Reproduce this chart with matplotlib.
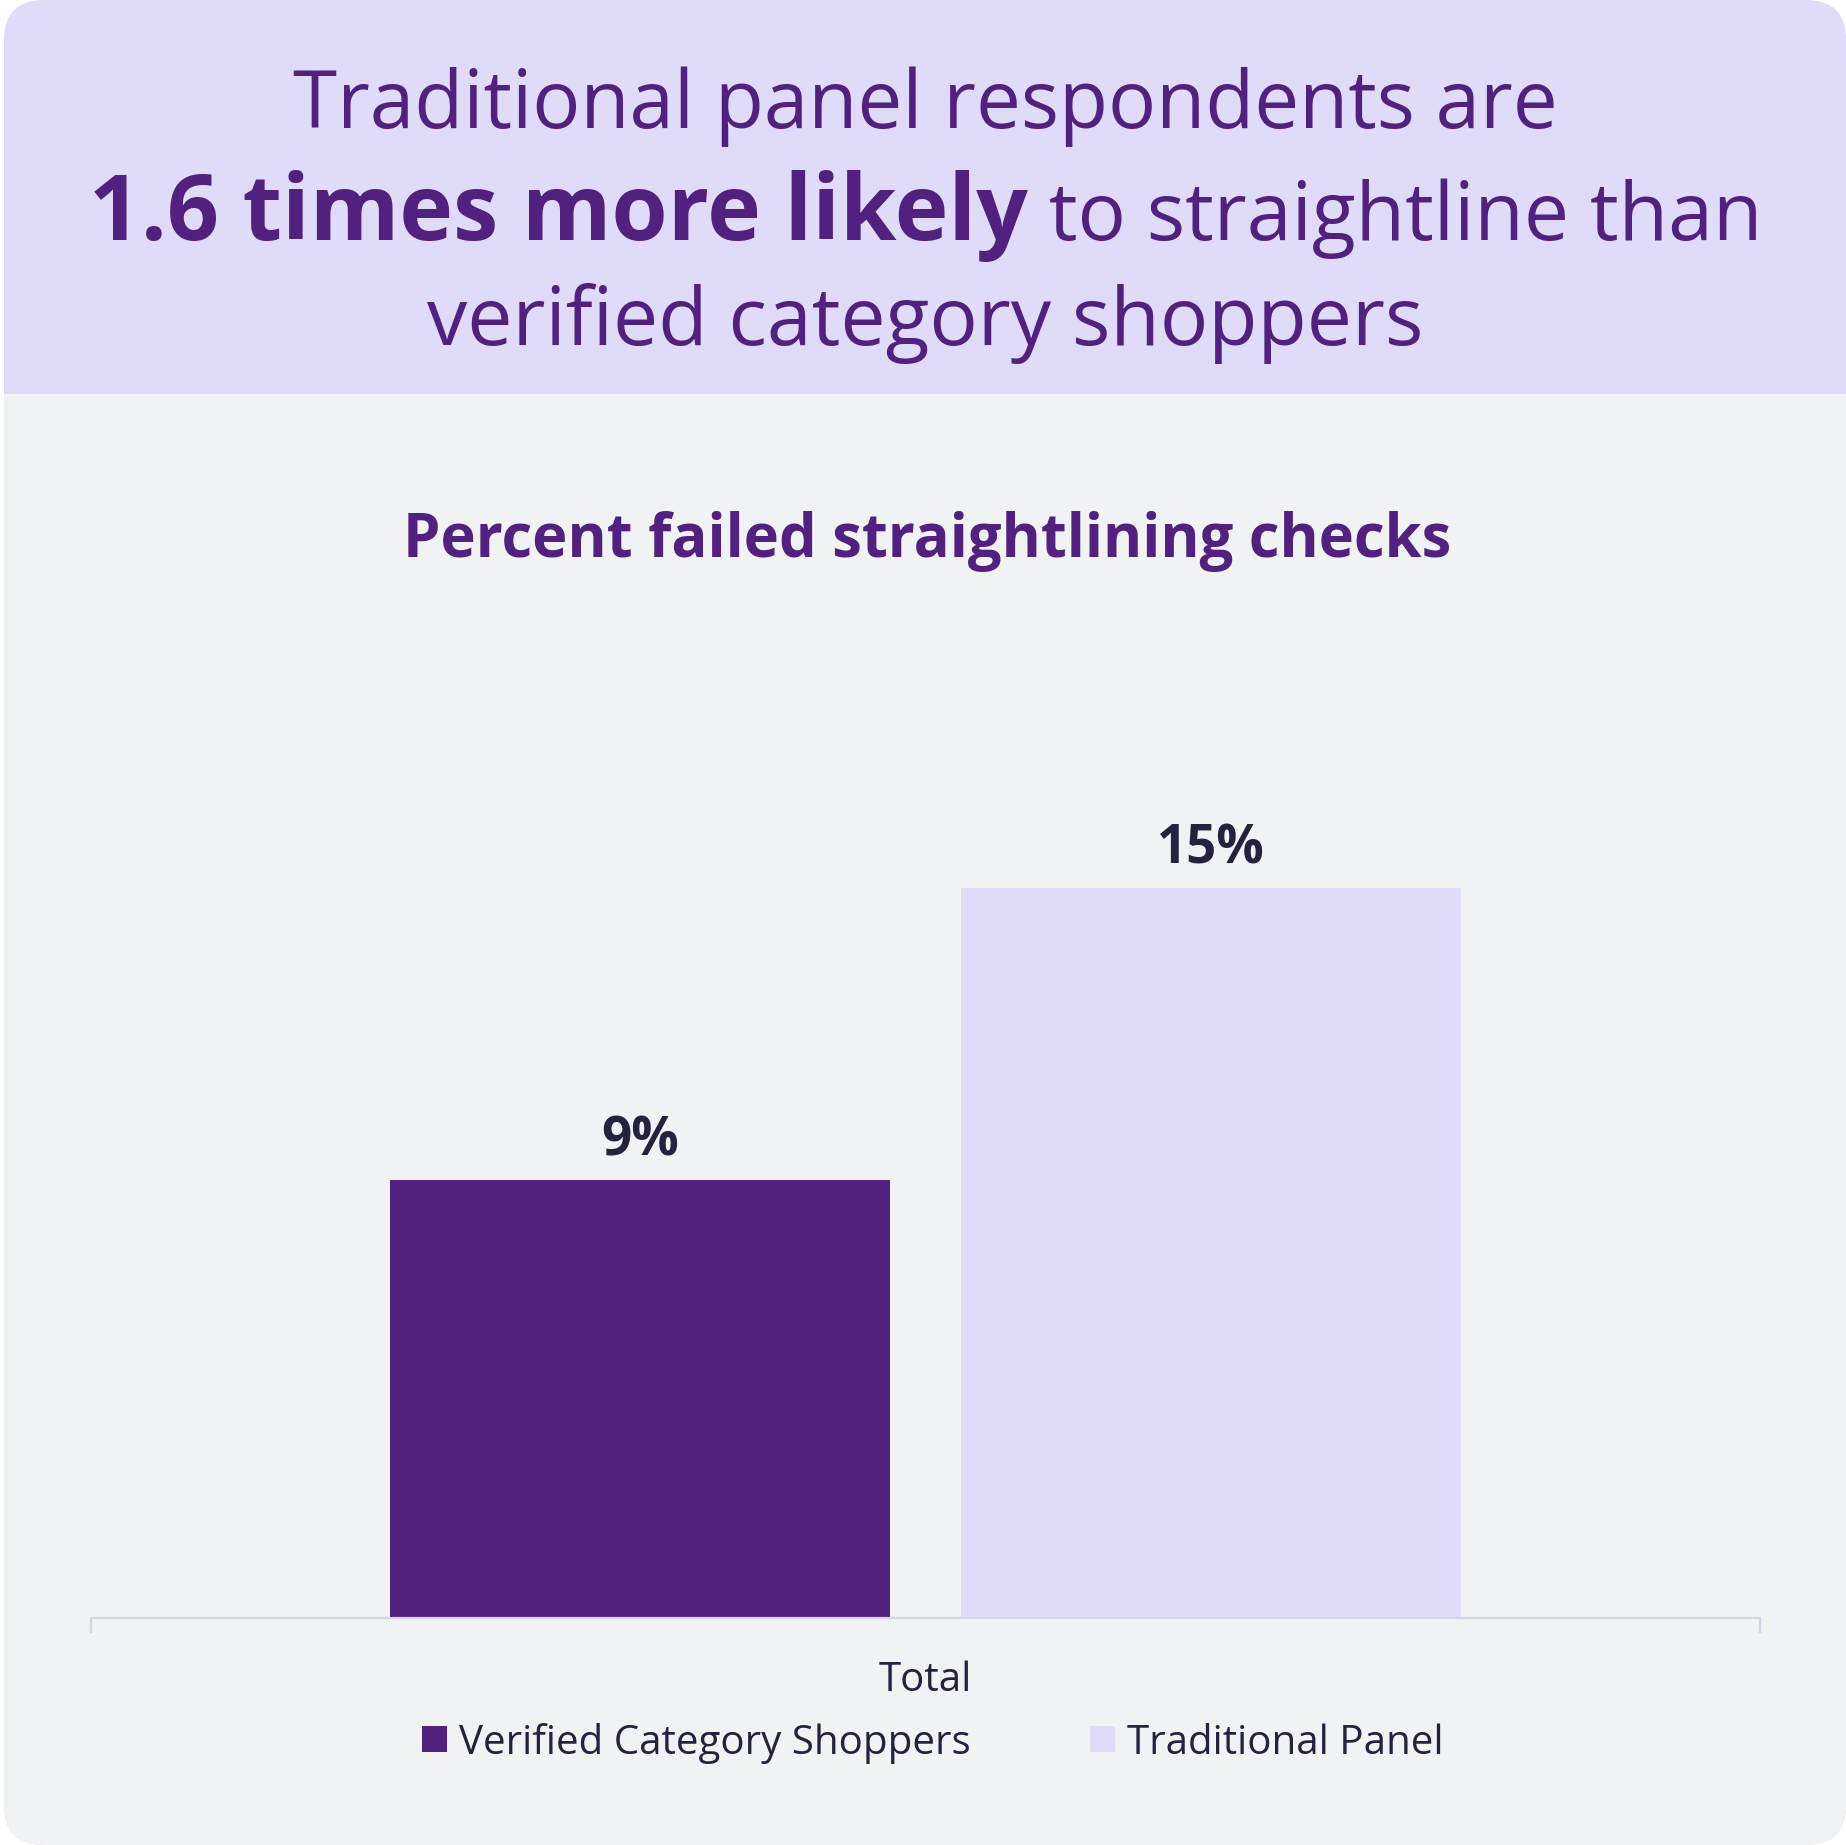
import matplotlib.pyplot as plt
from matplotlib.patches import FancyBboxPatch, Rectangle, Patch

W, H = 1846, 1845
DPI = 100

# data
series = ['Verified Category Shoppers', 'Traditional Panel']
values = [9, 15]
category = 'Total'

purple = '#52207F'
lavender = '#DFDBF9'
body_bg = '#F1F2F4'
dark = '#23223F'
axis_col = '#D6D4EA'

plt.rcParams['font.family'] = ['Open Sans', 'DejaVu Sans']

fig = plt.figure(figsize=(W / DPI, H / DPI), dpi=DPI)
fig.patch.set_facecolor('white')


def fx(px):
    return px / W


def fy(py):
    # py is measured from the top
    return 1 - py / H


# card: header band then grey body
r = 40
header_h = 394
card = FancyBboxPatch((fx(4 + r), fy(H - r)), fx(W - 4 - 2 * r), (H - 2 * r) / H,
                      boxstyle='round,pad=%f' % (r / H), transform=fig.transFigure,
                      facecolor=lavender, edgecolor='none', zorder=-10)
fig.patches.append(card)
body = FancyBboxPatch((fx(4 + r), fy(H - r)), fx(W - 4 - 2 * r), (H - header_h - 2 * r) / H,
                      boxstyle='round,pad=%f' % (r / H), transform=fig.transFigure,
                      facecolor=body_bg, edgecolor='none', zorder=-9)
fig.patches.append(body)
fig.patches.append(Rectangle((fx(4), fy(header_h + r + 2)), fx(W - 4), (r + 2) / H,
                             transform=fig.transFigure, facecolor=body_bg, edgecolor='none',
                             zorder=-9))

# headline
fig.text(fx(925), fy(128), 'Traditional panel respondents are', ha='center', va='baseline',
         fontsize=57.6, color=purple)
fig.text(fx(925), fy(345), 'verified category shoppers', ha='center', va='baseline',
         fontsize=58, color=purple)

renderer = fig.canvas.get_renderer()
t_bold = fig.text(0, fy(240), '1.6 times more likely', ha='left', va='baseline',
                  fontsize=65.5, fontweight='bold', color=purple)
t_reg = fig.text(0, fy(240), ' to straightline than', ha='left', va='baseline',
                 fontsize=58, color=purple)
wb = t_bold.get_window_extent(renderer).width
wr = t_reg.get_window_extent(renderer).width
x0 = 926 - (wb + wr) / 2
t_bold.set_x(fx(x0))
t_reg.set_x(fx(x0 + wb))

fig.text(fx(927), fy(557), 'Percent failed straightlining checks', ha='center', va='baseline',
         fontsize=43, fontweight='bold', color=purple)

# bar chart
ax = fig.add_axes([fx(91), fy(1618), fx(1760 - 91), (1618 - 645) / H])
ax.set_facecolor('none')
width = 0.3
gap = 0.042
offsets = [-(width + gap) / 2, (width + gap) / 2]
colors = [purple, lavender]
for name, v, off, c in zip(series, values, offsets, colors):
    ax.bar(0.5 + off, v, width=width, color=c, label=name)
    ax.annotate('%d%%' % v, (0.5 + off, v), xytext=(0, 18), textcoords='offset points',
                ha='center', va='baseline', fontsize=38, fontweight='bold', color=dark)

ax.set_xlim(0, 1)
ax.set_ylim(0, 20)
for s in ['left', 'right', 'top']:
    ax.spines[s].set_visible(False)
ax.spines['bottom'].set_color(axis_col)
ax.spines['bottom'].set_linewidth(1.6)
ax.set_yticks([])
ax.set_xticks([0, 1])
ax.set_xticklabels([])
ax.tick_params(axis='x', length=11, width=1.6, color=axis_col)

fig.text(fx(925), fy(1681), category, ha='center', va='center', fontsize=29, color=dark)

handles = [Patch(facecolor=c, edgecolor='none') for c in colors]
fig.legend(handles, series, loc='center', bbox_to_anchor=(fx(933), fy(1743)), ncol=2,
           frameon=False, fontsize=29, labelcolor=dark, handlelength=0.62, handleheight=0.62,
           handletextpad=0.3, columnspacing=2.97)

fig.savefig('out.png', dpi=DPI, facecolor='white')
